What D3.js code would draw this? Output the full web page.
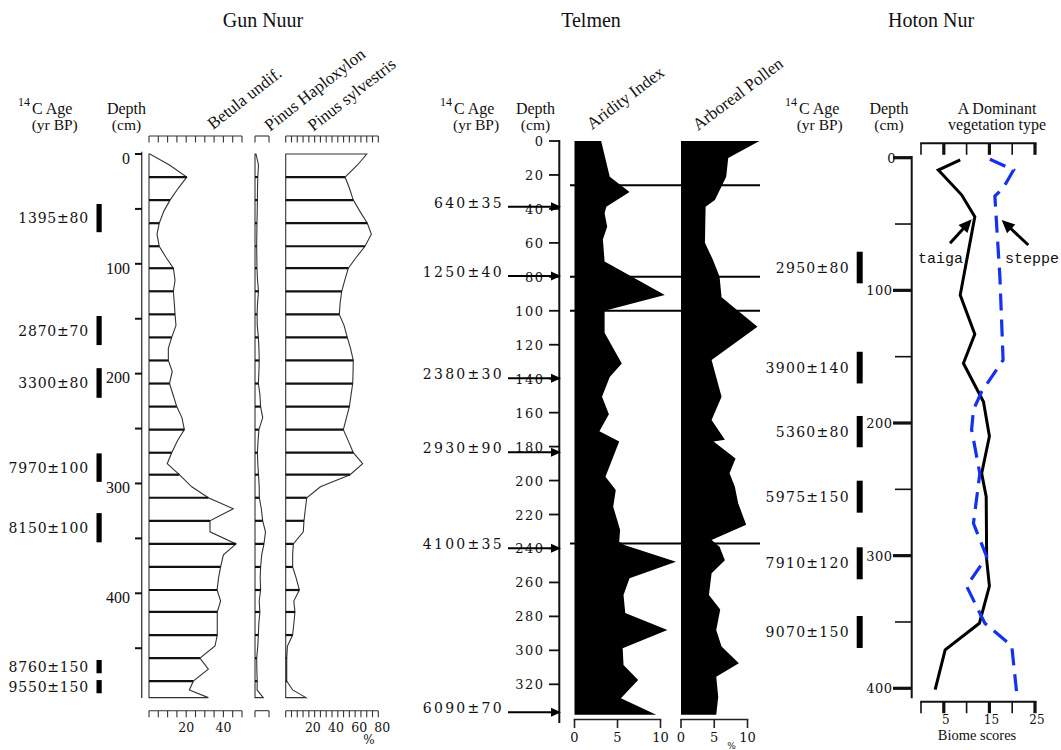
<!DOCTYPE html>
<html><head><meta charset="utf-8">
<script src="https://cdn.jsdelivr.net/npm/d3@7"></script>
<style>body{margin:0;background:#fff}svg{display:block}</style>
</head><body><svg id="c" width="1061" height="750"></svg>
<script>
// ---------------- DATA ----------------
const titles = ['Gun Nuur', 'Telmen', 'Hoton Nur'];

// Gun Nuur pollen (%), depth in cm
const gunDepths = [0,10,21,31,42,52,63,73,84,94,104,115,125,136,146,156,167,177,188,198,209,219,230,240,251,261,272,282,292,303,313,323,334,344,355,365,376,386,397,407,417,428,438,448,459,469,480,488,495];
const gunLineDepths = [21,42,63,84,104,125,146,167,188,209,230,251,272,292,313,334,355,376,397,417,438,459,480];
const betula = [0.5,11,20.3,15.8,11.3,8,5.5,4.3,5.5,9.1,13.1,14,13.1,13.6,14,14.5,12.2,10.4,10.4,12.5,11,12.9,14.9,17.7,19,15.3,12.2,9.8,16.3,23,31.9,45.3,32.8,32.8,46.8,40,38.5,37.4,36.6,38.5,36.7,36.7,36.7,35.5,27.4,31.9,23.8,21.7,31.9];
const haploxylon = [0.7,2.5,2.0,1.8,1.7,1.6,1.4,1.3,1.2,1.3,1.4,1.8,2.5,1.8,1.5,1.6,2.4,2.8,3.0,2.8,2.4,3.5,4.0,5.5,2.8,2.2,1.7,2.0,2.5,3.0,3.1,4.5,5.5,7.5,6.4,4.8,4.0,3.7,4.0,3.0,3.5,2.7,2.4,2.0,1.2,1.3,1.6,1.5,5.9];
const sylvestris = [70,62,51.3,55,58.4,64,70.5,74,68.5,61,54.1,51,48.4,47,46.3,50.4,53.2,56,58.4,58.2,57.9,56.5,55,52.5,49.8,54,58.4,66.5,55.6,30,18.2,17,15.8,15.2,6.6,6.0,6.0,9,11.8,7,8.0,7,6.0,1.5,0.9,0.9,0.9,6,17.5];
const gunTaxa = ['Betula undif.', 'Pinus Haploxylon', 'Pinus sylvestris'];
const gunDepthTicks = [0,100,200,300,400];
const gunDepthMinor = [50,150,250,350,450];
const betulaTickLabels = [20,40];
const sylvTickLabels = [20,40,60,80];
const gunAges = ['1395±80','2870±70','3300±80','7970±100','8150±100','8760±150','9550±150'];
const gunAgeTop = [45.5,147.5,195,272.6,327,460.7,479];
const gunAgeBot = [71.2,174,222,298.5,353.6,472.8,491];

// Telmen
const telDepthTicks = [0,20,40,60,80,100,120,140,160,180,200,220,240,260,280,300,320];
const aridDepths = [0,21,30,38.7,42.6,50.5,58,71,90.7,100,113,131,139,150.6,161,171,177,197.7,205.5,215.4,229,236,238,247.8,257.5,267.4,278,288,298.8,308.6,317.4,328.2,338];
const aridity = [3.1,4.1,6.4,3.7,3.5,3.8,3.3,3.5,10.5,3.5,3.5,5.5,4.1,3.2,4.0,2.9,5.2,3.6,4.8,4.5,5.3,5.2,5.8,11.8,6.4,5.7,5.9,10.8,5.6,5.7,7.4,5.4,9.5];
const arbDepths = [0,10,21,34.7,38.7,60,70,80,92,109.4,129,150.6,164.3,176,177,187,195.7,203.6,213.4,226,235,239,247,254.6,267.4,276,288,297.8,307.6,315.5,327.3,338];
const arboreal = [11.8,7.1,6.8,5.1,3.7,3.6,4.8,5.8,6.1,11.5,4.6,6.1,4.6,6.6,4.9,8.2,7.3,8.1,8.6,9.8,4.6,5.8,6.6,4.6,4.2,5.9,5.3,6.1,8.7,5.3,5.6,5.3];
const telBoundaries = [26,80,100,237];
const telAges = ['640±35','1250±40','2380±30','2930±90','4100±35','6090±70'];
const telAgeDepths = [38.7,79.5,139.8,183.3,239.9,336.5];
const telValueTicks = [0,5,10];
const telCurves = ['Aridity Index','Arboreal Pollen'];

// Hoton Nur biome scores
const hotDepthTicks = [0,100,200,300,400];
const hotDepthMinor = [50,150,250,350];
const taigaDepths = [1.7,9.3,28,44.5,103.5,133,155,184,210,238,255.6,303,323,351,371,401];
const taiga = [8.6,3.8,8.9,11.8,8.6,11.8,9.3,13.7,15.0,13.3,14.3,14.4,15.0,12.8,5.3,3.1];
const steppeDepths = [1.2,9.3,23,29,57,89.7,134,152.5,176.4,190,205,238,275.6,300.8,323,351,368,404];
const steppe = [15.1,20.3,18,16.2,16.7,17.3,17.8,18,13.3,11.5,11.1,12.9,11.5,14.4,10.0,14.0,19.9,21.0];
const biomeTicks = [0,5,10,15,20,25];
const biomeTickLabels = [5,15,25];
const hotAges = ['2950±80','3900±140','5360±80','5975±150','7910±120','9070±150'];
const hotAgeTop = [70.9,146.3,194.7,243.5,293.7,345.5];
const hotAgeBot = [94.7,170.2,218.3,267.6,317.8,369.6];

// ---------------- DRAW ----------------
const svg = d3.select('#c');
const serif = '"Liberation Serif","Times New Roman",serif';
const dserif = '"DejaVu Serif",serif';
const ink = '#111';

function txt(x, y, s, size, opts = {}) {
  const t = svg.append('text').attr('x', x).attr('y', y).text(s)
    .attr('font-family', opts.family || serif).attr('font-size', size)
    .attr('fill', opts.fill || ink).attr('text-anchor', opts.anchor || 'start');
  if (opts.ls) t.attr('letter-spacing', opts.ls);
  if (opts.rot) t.attr('transform', `rotate(${opts.rot},${x},${y})`);
  return t;
}
function line(x1, y1, x2, y2, w, col) {
  return svg.append('line').attr('x1', x1).attr('y1', y1).attr('x2', x2).attr('y2', y2)
    .attr('stroke', col || ink).attr('stroke-width', w);
}
function arrow(x1, y1, x2, y2, w, hl, hw) {
  const a = Math.atan2(y2 - y1, x2 - x1);
  const bx = x2 - hl * Math.cos(a), by = y2 - hl * Math.sin(a);
  line(x1, y1, bx + Math.cos(a), by + Math.sin(a), w, '#000');
  const px = -Math.sin(a) * hw, py = Math.cos(a) * hw;
  svg.append('path').attr('d', `M${x2},${y2}L${bx + px},${by + py}L${bx - px},${by - py}Z`).attr('fill', '#000');
}

// titles
[263, 591, 931].forEach((x, i) => txt(x, 27, titles[i], 20, {anchor: 'middle'}));

// column headers
function ageHeader(x, xb) {
  txt(x, 106, '14', 12);
  txt(x + 14, 113.5, 'C Age', 16);
  txt(xb, 129.5, '(yr BP)', 15.5);
}
ageHeader(18, 31.7);
ageHeader(440, 453);
ageHeader(785, 796.7);
[126.5, 535.5, 889].forEach(x => {
  txt(x, 113.5, 'Depth', 16, {anchor: 'middle'});
  txt(x, 129.5, '(cm)', 15.5, {anchor: 'middle'});
});

// ===== Gun Nuur =====
const gunY = d3.scaleLinear().domain([0, 400]).range([154, 593.3]);
line(141.7, 151.7, 141.7, 698, 1.4, '#444');
gunDepthTicks.forEach(d => {
  line(135, gunY(d), 142, gunY(d), 2);
  txt(130, gunY(d) + 9.8, d, 16, {anchor: 'end'});
});
gunDepthMinor.forEach(d => line(135, gunY(d), 142, gunY(d), 2));

const gunPanels = [
  {vals: betula, x: d3.scaleLinear().domain([0, 50]).range([149, 242]), ticks: d3.range(0, 51, 5), labels: betulaTickLabels, lab: 0, head: [213, 130]},
  {vals: haploxylon, x: d3.scaleLinear().domain([0, 10]).range([255, 269]), ticks: [0, 10], labels: [], lab: 0, head: [270, 131.7]},
  {vals: sylvestris, x: d3.scaleLinear().domain([0, 80]).range([285.7, 378.3]), ticks: d3.range(0, 81, 5), labels: sylvTickLabels, lab: 4, head: [313.3, 131.7]},
];
gunPanels.forEach((p, k) => {
  const x = p.x;
  const last = gunDepths[gunDepths.length - 1];
  const pts = [[x(0), gunY(0)]].concat(gunDepths.map((d, i) => [x(p.vals[i]), gunY(d)]), [[x(0), gunY(last)]]);
  svg.append('path').attr('d', d3.line()(pts) + 'Z').attr('fill', '#fff')
    .attr('stroke', '#333').attr('stroke-width', 1.1).attr('stroke-linejoin', 'miter');
  gunLineDepths.forEach(d => {
    const v = p.vals[gunDepths.indexOf(d)];
    line(x(0), gunY(d), x(v), gunY(d), 2.2, '#111');
  });
  // top and bottom tick axes
  [136, 710.7].forEach(y0 => {
    line(x(0), y0, x(p.ticks[p.ticks.length - 1]), y0, 1.1, '#333');
    p.ticks.forEach(t => line(x(t), y0, x(t), y0 + 6.5, 1.1, '#333'));
  });
  p.labels.forEach(v => txt(x(v) + p.lab, 731.5, v, 12.5, {anchor: 'middle', family: dserif}));
  txt(p.head[0], p.head[1], gunTaxa[k], 17, {rot: -38});
});
txt(369, 744, '%', 12, {anchor: 'middle', family: dserif});

// ages with bars
gunAges.forEach((a, i) => {
  svg.append('rect').attr('x', 96.5).attr('y', gunY(gunAgeTop[i])).attr('width', 5.2)
    .attr('height', gunY(gunAgeBot[i]) - gunY(gunAgeTop[i])).attr('fill', '#000');
  txt(89, (gunY(gunAgeTop[i]) + gunY(gunAgeBot[i])) / 2 + 5, a, 14, {anchor: 'end', family: dserif, ls: 0.8});
});

// ===== Telmen =====
const telY = d3.scaleLinear().domain([0, 320]).range([141, 684.3]);
const aridX = d3.scaleLinear().domain([0, 10]).range([574.5, 660.5]);
const arbX = d3.scaleLinear().domain([0, 10]).range([681, 747.5]);

function fillCurve(depths, vals, x) {
  const area = d3.area().y(d => telY(d[0])).x0(x(0)).x1(d => x(d[1])).curve(d3.curveLinear);
  svg.append('path').attr('d', area(depths.map((d, i) => [d, vals[i]]))).attr('fill', '#000');
  telValueTicks.forEach(t => {
    line(x(t), 719.5, x(t), 728, 1.6, '#222');
    txt(x(t), 741.5, t, 13, {anchor: 'middle', family: dserif});
  });
  line(x(0) - 0.8, 719.5, x(10) + 0.8, 719.5, 1.6, '#222');
}
fillCurve(aridDepths, aridity, aridX);
fillCurve(arbDepths, arboreal, arbX);
txt(592, 130, telCurves[0], 17, {rot: -37});
txt(698, 131, telCurves[1], 17, {rot: -37});
txt(731.5, 749, '%', 9, {anchor: 'middle', family: dserif});

line(559.3, 140, 559.3, 723, 2);
telDepthTicks.forEach(d => {
  line(549, telY(d), 559.3, telY(d), 1.8);
  txt(544.5, telY(d) + 5, d, 13, {anchor: 'end', family: dserif, ls: 1.5});
});
telBoundaries.forEach(d => line(570, telY(d), 760, telY(d), 2, '#000'));
telAges.forEach((a, i) => {
  const y = telY(telAgeDepths[i]);
  txt(504, y + 1, a, 14, {anchor: 'end', family: dserif, ls: 2.3});
  arrow(508, y, 561, y, 2, 10, 4.5);
});

// ===== Hoton Nur =====
const hotY = d3.scaleLinear().domain([0, 400]).range([157.7, 688.3]);
const hotX = d3.scaleLinear().domain([0, 25]).range([921, 1035]);
line(911.7, 156, 911.7, 698.3, 2);
hotDepthTicks.forEach(d => {
  line(893, hotY(d), 912, hotY(d), 3.2);
  txt(d === 0 ? 896 : 892.5, hotY(d) + 5, d, 13, {anchor: 'end', family: dserif, ls: 0.5});
});
hotDepthMinor.forEach(d => line(895, hotY(d), 912, hotY(d), 1.6));

[143.3, 701.7].forEach(y0 => {
  line(hotX(0) - 0.8, y0, hotX(25) + 1.5, y0, 2);
  biomeTicks.forEach(t => line(hotX(t), y0, hotX(t), y0 + 11.5, t % 10 === 5 ? 3.2 : 1.6));
});
biomeTickLabels.forEach(v => txt(hotX(v) + 2, 723.5, v, 12, {anchor: 'middle', family: dserif}));
txt(977, 740, 'Biome scores', 14.5, {anchor: 'middle'});
txt(997, 113.5, 'A Dominant', 16, {anchor: 'middle'});
txt(997, 129.5, 'vegetation type', 16, {anchor: 'middle'});

const hotLine = d3.line().x(d => hotX(d[1])).y(d => hotY(d[0]));
svg.append('path').attr('d', hotLine(taigaDepths.map((d, i) => [d, taiga[i]])))
  .attr('fill', 'none').attr('stroke', '#000').attr('stroke-width', 3).attr('stroke-linejoin', 'miter');
svg.append('path').attr('d', hotLine(steppeDepths.map((d, i) => [d, steppe[i]])))
  .attr('fill', 'none').attr('stroke', '#1430f0').attr('stroke-width', 3.2).attr('stroke-dasharray', '17,9');

txt(918, 263, 'taiga', 15, {family: '"Liberation Mono","DejaVu Sans Mono",monospace'});
txt(1005, 263, 'steppe', 15, {family: '"Liberation Mono","DejaVu Sans Mono",monospace'});
arrow(950, 243.3, 971.7, 219.3, 3, 13, 6);
arrow(1028.3, 245, 1001.7, 220, 3, 13, 6);

hotAges.forEach((a, i) => {
  svg.append('rect').attr('x', 856.7).attr('y', hotY(hotAgeTop[i])).attr('width', 6)
    .attr('height', hotY(hotAgeBot[i]) - hotY(hotAgeTop[i])).attr('fill', '#000');
  txt(850, (hotY(hotAgeTop[i]) + hotY(hotAgeBot[i])) / 2 + 5, a, 14, {anchor: 'end', family: dserif, ls: 1.3});
});
</script></body></html>
